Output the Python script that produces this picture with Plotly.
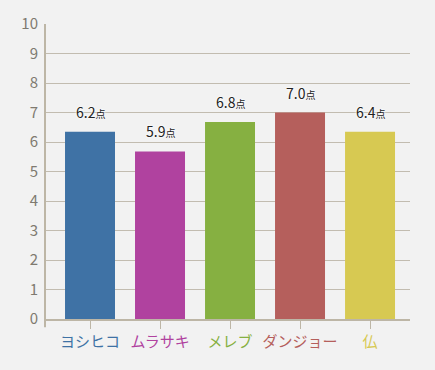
import plotly.graph_objects as go

categories = ["ヨシヒコ", "ムラサキ", "メレブ", "ダンジョー", "仏"]
bar_values = [6.35, 5.68, 6.68, 7.0, 6.35]
label_values = [6.2, 5.9, 6.8, 7.0, 6.4]
label_unit = "点"
colors = ["#3f72a5", "#b0429f", "#86b041", "#b55f5c", "#d7c952"]
y_ticks = list(range(0, 11))

FONT = "Noto Sans CJK JP"
xs = list(range(len(categories)))

fig = go.Figure()
fig.add_trace(go.Bar(
    x=xs, y=bar_values, width=0.714,
    marker=dict(color=colors, line=dict(width=0)),
    hoverinfo="skip",
))

for x, v, lv in zip(xs, bar_values, label_values):
    fig.add_annotation(
        x=x, y=v, xref="x", yref="y",
        text=f"{lv:.1f}<span style='font-size:10px'>{label_unit}</span>",
        showarrow=False, yanchor="bottom", yshift=8,
        font=dict(family=FONT, size=14, color="#222222",
                  shadow="0px 0px 2px #ffffff, 0px 0px 3px #ffffff"),
    )

ticktext = [f"<span style='color:{c}'>{t}</span>" for t, c in zip(categories, colors)]

fig.add_shape(type="line", xref="paper", yref="paper", x0=0, x1=0, y0=-0.028, y1=1,
              line=dict(color="#bdb6a6", width=2))

fig.update_layout(
    width=435, height=370,
    margin=dict(l=45, r=25, t=19, b=51),
    paper_bgcolor="#f2f2f2", plot_bgcolor="#f2f2f2",
    showlegend=False,
    font=dict(family=FONT),
    xaxis=dict(
        range=[-0.643, 4.571], tickvals=xs, ticktext=ticktext,
        tickfont=dict(family=FONT, size=15),
        showgrid=False, zeroline=False,
        showline=True, linecolor="#bdb6a6", linewidth=1.5,
        ticks="outside", ticklen=8, tickcolor="#bdb6a6", tickwidth=1,
        fixedrange=True,
    ),
    yaxis=dict(
        range=[0, 10], tickvals=y_ticks,
        tickfont=dict(family=FONT, size=15, color="#7f7a70"),
        showgrid=True, gridcolor="#c2bcb0", gridwidth=1,
        zeroline=False, showline=False,
        ticks="", ticklabelstandoff=6,
        fixedrange=True,
    ),
)

fig.write_html("out.html", config={"displayModeBar": False},
               post_script="document.body.style.margin='0';")
